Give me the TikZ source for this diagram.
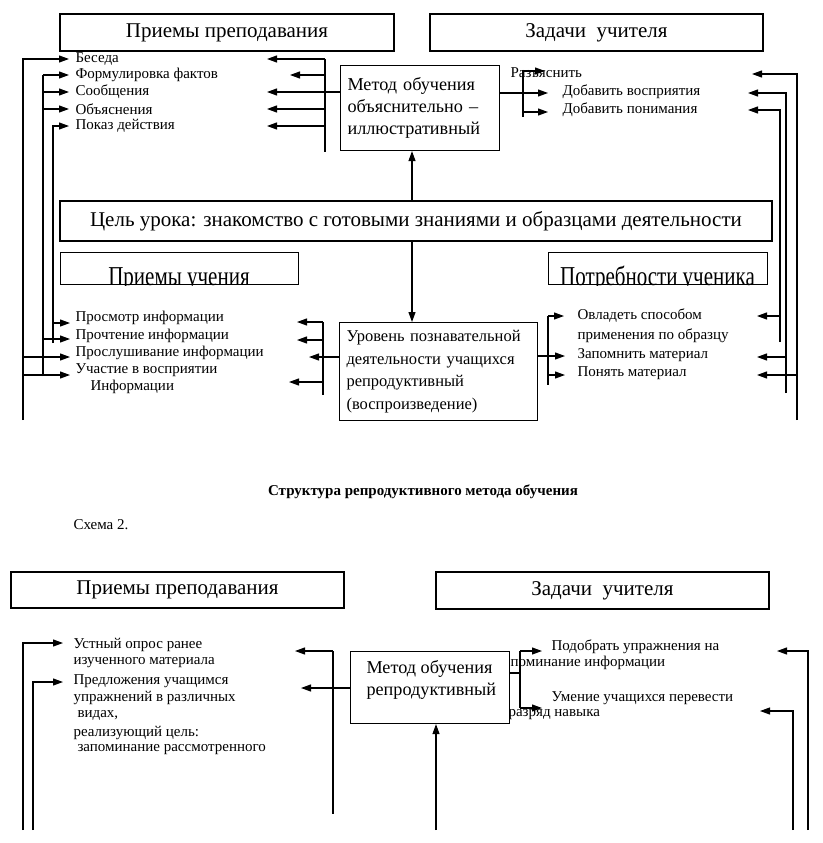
\documentclass[tikz,border=0pt]{standalone}
\usepackage{fontspec}
\setmainfont{Liberation Serif}
\usetikzlibrary{arrows.meta}
\begin{document}
\begin{tikzpicture}[x=1pt,y=-1pt, line width=1.1pt,
 box/.style={draw, line width=1.1pt, inner sep=0pt},
 big/.style={font=\fontsize{21}{24}\selectfont},
 sm/.style={anchor=west, inner sep=0pt, font=\fontsize{15}{17}\selectfont},
 arr/.style={-{Triangle[length=10pt,width=7pt]}},
]
\useasboundingbox[fill=white] (0,0) rectangle (822,843);

% ===== top diagram =====
\node[box,big,minimum width=334,minimum height=37] (tpp) at (227,32.5) {Приемы преподавания};
\node[box,big,minimum width=333,minimum height=37] (tzu) at (596.5,32.5) {Задачи\ \ учителя};
\node[box,font=\fontsize{18.2}{22}\selectfont,minimum width=159,minimum height=85,align=left,text width=145,inner xsep=7pt,anchor=north west] (tmeth) at (340,65) {Метод обучения\\объяснительно –\\иллюстративный};
\node[box,font=\fontsize{21}{24}\selectfont,minimum width=712,minimum height=40] (goal) at (416,221) {Цель урока: знакомство с готовыми знаниями и образцами деятельности};

\node[box,minimum width=238,minimum height=32,anchor=north west] (tpu) at (60,252) {};
\begin{scope}
\clip (tpu.south west) rectangle (tpu.north east);
\node[big,anchor=base,inner sep=0pt] (tputext) at (179,285.5) {\scalebox{1}[1.3]{Приемы учения}};
\end{scope}
\node[box,minimum width=219,minimum height=32,anchor=north west] (tpn) at (548,252) {};
\begin{scope}
\clip (tpn.south west) rectangle (tpn.north east);
\node[big,anchor=base,inner sep=0pt] (tpntext) at (657.5,285.5) {\scalebox{1}[1.3]{Потребности ученика}};
\end{scope}

\node[box,font=\fontsize{16.5}{22.5}\selectfont,minimum width=198,minimum height=98,align=left,text width=184,inner xsep=7pt,anchor=north west] (lvl) at (339,322) {Уровень познавательной\\деятельности учащихся\\репродуктивный\\(воспроизведение)};

% left texts (top)
\node[sm] (a1) at (75,59) {Беседа};
\node[sm] (a2) at (75,75) {Формулировка фактов};
\node[sm] (a3) at (75,92) {Сообщения};
\node[sm] (a4) at (75,109) {Объяснения};
\node[sm] (a5) at (75,126) {Показ действия};
% right texts (top)
\node[sm] (r1) at (510,73) {Разъяснить};
\node[sm] (r2) at (562,92) {Добавить восприятия};
\node[sm] (r3) at (562,110) {Добавить понимания};
% left texts (lower)
\node[sm] (b1) at (75,318) {Просмотр информации};
\node[sm] (b2) at (75,336) {Прочтение информации};
\node[sm] (b3) at (75,353) {Прослушивание информации};
\node[sm] (b4) at (75,370) {Участие в восприятии};
\node[sm] (b5) at (90,387) {Информации};
% right texts (lower)
\node[sm] (c1) at (577,316) {Овладеть способом};
\node[sm] (c2) at (577,336) {применения по образцу};
\node[sm] (c3) at (577,355) {Запомнить материал};
\node[sm] (c4) at (577,373) {Понять материал};

% left buses
\draw[arr] (23,420) |- (69,59);
\draw (43,376) -- (43,75);
\draw[arr] (43,75) -- (69,75);
\draw[arr] (43,92) -- (69,92);
\draw[arr] (43,109) -- (69,109);
\draw[arr] (53,343) |- (69,126);
\draw[arr] (53,323) -- (70,323);
\draw[arr] (43,339) -- (70,339);
\draw[arr] (23,357) -- (70,357);
\draw[arr] (23,375) -- (70,375);

% bus left of method box
\draw (325,59) -- (325,152);
\draw (tmeth.west |- 0,92) -- (325,92);
\draw[arr] (325,59) -- (267,59);
\draw[arr] (325,75) -- (290,75);
\draw[arr] (325,92) -- (267,92);
\draw[arr] (325,109) -- (267,109);
\draw[arr] (325,126) -- (267,126);

% bus right of method box
\draw[arr] (tmeth.east |- 0,93) -- (548,93);
\draw (523,70) -- (523,117);
\draw[arr] (523,71) -- (545,71);
\draw[arr] (523,112) -- (548,112);

% far right buses
\draw[arr] (797,420) |- (752,74);
\draw[arr] (786,393) |- (748,93);
\draw[arr] (780,342) |- (748,110);
\draw[arr] (780,316) -- (757,316);
\draw[arr] (786,357) -- (757,357);
\draw[arr] (797,375) -- (757,375);

% vertical links
\draw[arr] (goal.north -| 412,0) -- (tmeth.south -| 412,0);
\draw[arr] (goal.south -| 412,0) -- (lvl.north -| 412,0);

% bus left of level box
\draw (323,322) -- (323,395);
\draw[arr] (lvl.west |- 0,357) -- (309,357);
\draw[arr] (323,322) -- (297,322);
\draw[arr] (323,340) -- (297,340);
\draw[arr] (323,382) -- (289,382);

% bus right of level box
\draw[arr] (lvl.east |- 0,356) -- (565,356);
\draw (548,316) -- (548,385);
\draw[arr] (548,316) -- (564,316);
\draw[arr] (548,375) -- (565,375);

% ===== caption =====
\node[font=\bfseries\fontsize{15}{17}\selectfont] (cap) at (423,492) {Структура репродуктивного метода обучения};
\node[anchor=west,inner sep=0pt,font=\fontsize{15}{17}\selectfont] (sch) at (73,525) {Схема 2.};

% ===== bottom diagram =====
\node[box,big,minimum width=333,minimum height=36] (bpp) at (177.5,590) {Приемы преподавания};
\node[box,big,minimum width=333,minimum height=37] (bzu) at (602.5,590.5) {Задачи\ \ учителя};

\node[sm] (d1) at (73,645) {Устный опрос ранее};
\node[sm] (d2) at (73,663) {изученного материала};
\node[sm] (d3) at (73,681) {Предложения учащимся};
\node[sm] (d4) at (73,698) {упражнений в различных};
\node[sm] (d5) at (77,715) {видах,};
\node[sm] (d6) at (73,733) {реализующий цель:};
\node[sm] (d7) at (77,750) {запоминание рассмотренного};

\node[sm] (e1) at (551,647) {Подобрать упражнения на};
\node[sm] (e2) at (510,663) {поминание информации};
\node[sm] (e3) at (551,698) {Умение учащихся перевести};
\node[sm] (e4) at (508,715) {разряд навыка};

\node[box,minimum width=159,minimum height=72,anchor=north west,fill=white] (bmeth) at (350,651) {};
\node[anchor=north west,align=left,inner sep=0pt,font=\fontsize{18.2}{22}\selectfont] (bmethtext) at (366,660) {Метод обучения\\репродуктивный};

\draw[arr] (23,830) |- (63,643);
\draw[arr] (33,830) |- (63,682);

\draw (333,651) -- (333,814);
\draw[arr] (333,651) -- (295,651);
\draw[arr] (bmeth.west |- 0,688) -- (301,688);

\draw (bmeth.east |- 0,673) -- (520,673);
\draw (520,651) -- (520,708);
\draw[arr] (520,651) -- (542,651);
\draw[arr] (520,708) -- (542,708);

\draw[arr] (808,830) |- (777,651);
\draw[arr] (793,830) |- (760,711);
\draw[arr] (436,830) -- (bmeth.south -| 436,0);
\end{tikzpicture}
\end{document}
